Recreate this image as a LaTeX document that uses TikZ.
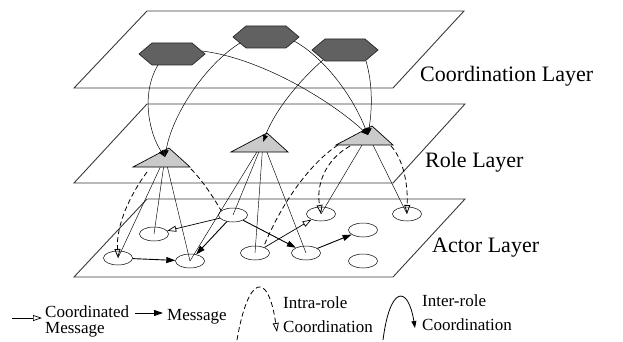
\documentclass[tikz,border=0pt]{standalone}
\usepackage{fontspec}
\setmainfont{Liberation Serif}
\usetikzlibrary{arrows.meta, shapes.geometric, calc}
\definecolor{coordgray}{HTML}{616161}
\definecolor{coordborder}{HTML}{262626}
\definecolor{rolegray}{HTML}{CACACA}
\definecolor{layeredge}{HTML}{3A3A3A}

\newcommand{\hexagonat}[1]{%
  \filldraw[coordhex] (#1) +(-33,0) -- +(-20,-11) -- +(20,-11) -- +(33,0)
    -- +(20,11) -- +(-20,11) -- cycle;}
\newcommand{\roletriat}[1]{%
  \filldraw[roletri] (#1) +(4,-9) -- +(25,10) -- +(-32,10) -- cycle;}

\begin{document}
\begin{tikzpicture}[x=1pt, y=-1pt,
    layer/.style={draw=layeredge, line width=0.9pt},
    coordhex/.style={fill=coordgray, draw=coordborder, line width=0.7pt},
    roletri/.style={fill=rolegray, draw=black, line width=0.7pt},
    actor/.style={draw, ellipse, line width=0.5pt, minimum width=29pt,
      minimum height=14pt, inner sep=0pt},
    assign/.style={line width=0.45pt},
    msg/.style={line width=0.9pt, -{Triangle[length=9pt, width=6pt]}},
    cmsg/.style={line width=0.7pt, -{Triangle[open, length=9pt, width=6pt]}},
    intra/.style={line width=0.8pt, dash pattern=on 5pt off 3pt,
      -{Triangle[open, length=9pt, width=6pt]}},
    inter/.style={line width=0.5pt, -{Triangle[length=7pt, width=5pt]}},
    layername/.style={font=\fontsize{22}{24}\selectfont, anchor=base west,
      inner sep=0pt},
    legendtext/.style={font=\fontsize{17}{19}\selectfont, anchor=base west,
      inner sep=0pt}
  ]
  \useasboundingbox (0,0) rectangle (623,342);

  % the three layers
  \draw[layer] (74,88) -- (393,88) -- (464,11) -- (147,11) -- cycle;
  \draw[layer] (74,183) -- (393,183) -- (465,104) -- (147,104) -- cycle;
  \draw[layer] (74,277) -- (393,277) -- (465,199) -- (147,199) -- cycle;
  \node[layername] (coordlabel) at (420,82) {Coordination Layer};
  \node[layername] (rolelabel) at (425,167) {Role Layer};
  \node[layername] (actorlabel) at (432,252) {Actor Layer};

  \coordinate (h1) at (172,54);
  \coordinate (h2) at (266,37);
  \coordinate (h3) at (345,50);
  \coordinate (t1) at (165,157);
  \coordinate (t2) at (263,142);
  \coordinate (t3) at (368,135);

  \node[actor] (e1) at (118,258) {};
  \node[actor] (e2) at (154,234) {};
  \node[actor] (e3) at (190,261) {};
  \node[actor] (e4) at (233,215) {};
  \node[actor] (e5) at (255,253) {};
  \node[actor] (e6) at (321,214) {};
  \node[actor] (e7) at (306,253) {};
  \node[actor] (e8) at (363,230) {};
  \node[actor] (e9) at (363,261) {};
  \node[actor] (e10) at (407,214) {};

  % roles played by actors
  \draw[assign] (t1) -- (e1.center);
  \draw[assign] (t1) -- (e2.center);
  \draw[assign] (t1) -- (e3.center);
  \draw[assign] (t2) -- (e3.center);
  \draw[assign] (t2) -- (e4.center);
  \draw[assign] (t2) -- (e5.center);
  \draw[assign] (t2) -- (e7.center);
  \draw[assign] (t3) -- (e6.center);
  \draw[assign] (t3) -- (e10.center);

  % intra-role coordination
  \draw[intra] ($(t1)+(-18,15)$) .. controls (130,195) and (116,225) .. (e1.center);
  \draw[intra, -] ($(t1)+(26,12)$) .. controls (202,180) and (212,195) .. (e4.160);
  \draw[intra, -] ($(t3)+(-30,10)$) .. controls (315,160) and (285,195) .. (e5.35);
  \draw[intra] ($(t3)+(-18,11)$) .. controls (325,160) and (316,185) .. (e6.center);
  \draw[intra] ($(t3)+(23,11)$) .. controls (402,158) and (408,180) .. (e10.center);

  \roletriat{t1}
  \roletriat{t2}
  \roletriat{t3}
  \hexagonat{h1}
  \hexagonat{h2}
  \hexagonat{h3}

  % inter-role coordination
  \draw[inter] ($(h1)+(-14,11)$) .. controls (140,95) and (150,135) .. (t1);
  \draw[inter] ($(h2)+(-26,6)$) .. controls (205,65) and (172,115) .. (t1);
  \draw[inter] ($(h1)+(30,-3)$) .. controls (260,58) and (330,100) .. (t3);
  \draw[inter] ($(h2)+(28,4)$) .. controls (320,55) and (350,90) .. (t3);
  \draw[inter] ($(h3)+(-22,10)$) .. controls (300,80) and (275,110) .. (t2);
  \draw[inter] ($(h3)+(21,11)$) .. controls (373,85) and (372,110) .. (t3);

  % messages
  \draw[msg] (e1) -- (e3);
  \draw[msg] (e4) -- (e3);
  \draw[msg] (e4) -- (e7);
  \draw[msg] (e7) -- (e8);
  \draw[cmsg] (e4) -- (e2);
  \draw[cmsg] (e5) -- (e6);

  % legend
  \coordinate (lgcm0) at (12,318);
  \coordinate (lgcm1) at (42,318);
  \draw[cmsg] (lgcm0) -- (lgcm1);
  \node[legendtext] (lgcmtext) at (45,317) {Coordinated};
  \node[legendtext] (lgcmtext2) at (45,333) {Message};
  \coordinate (lgmsg0) at (135,313);
  \coordinate (lgmsg1) at (163,313);
  \draw[msg] (lgmsg0) -- (lgmsg1);
  \node[legendtext] (lgmsgtext) at (167,320) {Message};
  \coordinate (lgintra0) at (237,340);
  \coordinate (lgintra1) at (277,332);
  \draw[intra] (lgintra0) .. controls (248,275) and (268,270) .. (lgintra1);
  \node[legendtext] (lgintratext) at (283,308) {Intra-role};
  \node[legendtext] (lgintratext2) at (283,332) {Coordination};
  \coordinate (lginter0) at (383,340);
  \coordinate (lginter1) at (415,328);
  \draw[inter, line width=0.8pt] (lginter0) .. controls (390,285) and (408,285) .. (lginter1);
  \node[legendtext] (lgintertext) at (422,306) {Inter-role};
  \node[legendtext] (lgintertext2) at (422,330) {Coordination};
\end{tikzpicture}
\end{document}
